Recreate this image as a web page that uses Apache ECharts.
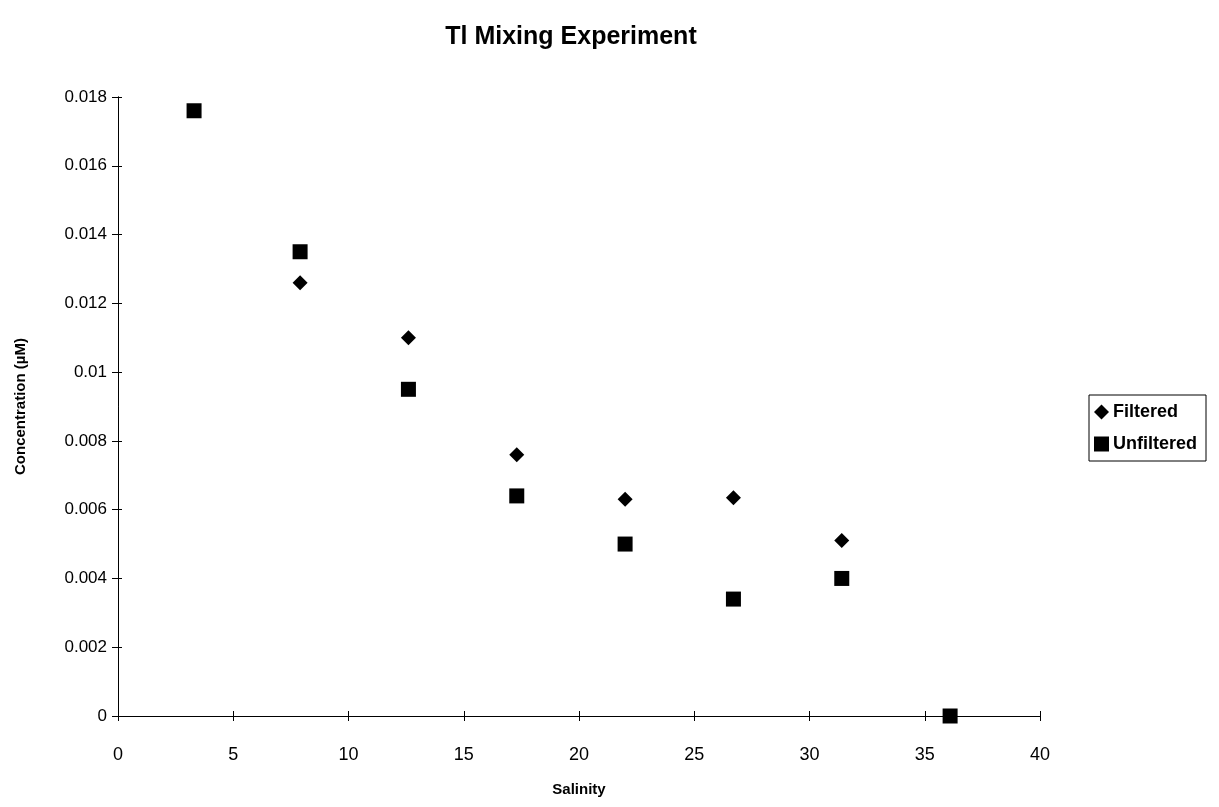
<!DOCTYPE html>
<html>
<head>
<meta charset="utf-8">
<script src="https://cdn.jsdelivr.net/npm/echarts@6/dist/echarts.min.js"></script>
<style>
html,body{margin:0;padding:0;background:#fff;}
#chart{width:1219px;height:807px;}
</style>
</head>
<body>
<div id="chart"></div>
<script>
// Data
var salinityFiltered = [7.9, 12.6, 17.3, 22.0, 26.7, 31.4];
var filteredValues = [0.0126, 0.0110, 0.0076, 0.0063, 0.00635, 0.0051];
var salinityUnfiltered = [3.3, 7.9, 12.6, 17.3, 22.0, 26.7, 31.4, 36.1];
var unfilteredValues = [0.0176, 0.0135, 0.0095, 0.0064, 0.0050, 0.0034, 0.0040, 0.0000];
var seriesNames = ['Filtered', 'Unfiltered'];

function pairs(xs, ys) { return xs.map(function (x, i) { return [x, ys[i]]; }); }

var FONT = 'Liberation Sans';
var chart = echarts.init(document.getElementById('chart'));

var xBase = { type: 'value', min: 0, max: 40, interval: 5, position: 'bottom',
  axisLine: { onZero: false, lineStyle: { color: '#000', width: 1 } },
  splitLine: { show: false } };
var yBase = { type: 'value', min: 0, max: 0.018, interval: 0.002, position: 'left',
  axisLine: { onZero: false, lineStyle: { color: '#000', width: 1 } },
  splitLine: { show: false } };

chart.setOption({
  backgroundColor: '#fff',
  animation: false,
  title: {
    text: 'Tl Mixing Experiment',
    left: 566, top: 20, textAlign: 'center',
    textStyle: { fontFamily: FONT, fontSize: 25, fontWeight: 'bold', color: '#000' }
  },
  legend: {
    orient: 'vertical', left: 1089, top: 395,
    data: [{ name: seriesNames[0], icon: 'diamond' }, { name: seriesNames[1], icon: 'rect' }],
    borderColor: '#000', borderWidth: 1, padding: [8, 9, 8, 5],
    itemWidth: 15, itemHeight: 15, itemGap: 14,
    textStyle: { fontFamily: FONT, fontSize: 18, fontWeight: 'bold', color: '#000', padding: [0, 0, 0, -1] }
  },
  grid: { left: 118, right: 179, top: 97, bottom: 91, containLabel: false },
  xAxis: [
    Object.assign({}, xBase, {
      name: 'Salinity', nameLocation: 'middle', nameGap: 66,
      nameTextStyle: { fontFamily: FONT, fontSize: 15, fontWeight: 'bold', color: '#000' },
      axisTick: { show: true, inside: false, length: 5, lineStyle: { color: '#000' } },
      axisLabel: { margin: 30, fontFamily: FONT, fontSize: 18, color: '#000' }
    }),
    Object.assign({}, xBase, {
      axisTick: { show: true, inside: true, length: 5, lineStyle: { color: '#000' } },
      axisLabel: { show: false }
    })
  ],
  yAxis: [
    Object.assign({}, yBase, {
      name: 'Concentration (\u00b5M)', nameLocation: 'middle', nameGap: 90,
      nameTextStyle: { fontFamily: FONT, fontSize: 15, fontWeight: 'bold', color: '#000' },
      axisTick: { show: true, inside: false, length: 6, lineStyle: { color: '#000' } },
      axisLabel: { margin: 11, fontFamily: FONT, fontSize: 17, color: '#000',
        formatter: function (v) { return String(+v.toFixed(3)); } }
    }),
    Object.assign({}, yBase, {
      axisTick: { show: true, inside: true, length: 4, lineStyle: { color: '#000' } },
      axisLabel: { show: false }
    })
  ],
  series: [
    { name: seriesNames[0], type: 'scatter', symbol: 'diamond', symbolSize: 15,
      itemStyle: { color: '#000', opacity: 1 }, data: pairs(salinityFiltered, filteredValues) },
    { name: seriesNames[1], type: 'scatter', symbol: 'rect', symbolSize: 15,
      itemStyle: { color: '#000', opacity: 1 }, data: pairs(salinityUnfiltered, unfilteredValues) }
  ]
});
</script>
</body>
</html>
